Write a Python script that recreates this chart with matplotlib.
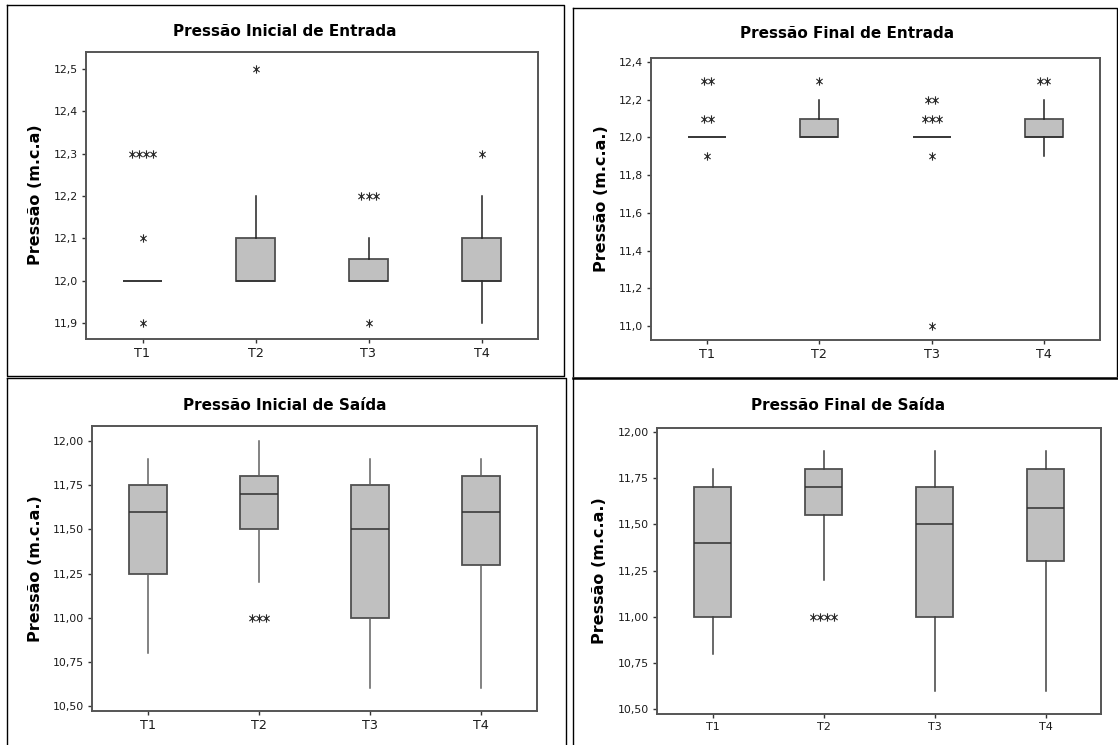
import numpy as np
import matplotlib
matplotlib.use("Agg")
import matplotlib.pyplot as plt
from matplotlib.lines import Line2D
from matplotlib.path import Path

# ---------------- data ----------------
categories = ["T1", "T2", "T3", "T4"]

# Panel 1: Pressão Inicial de Entrada
p1_title = "Pressão Inicial de Entrada"
p1_ylabel = "Pressão (m.c.a)"
p1_q1 = [12.0, 12.0, 12.0, 12.0]
p1_med = [12.0, 12.0, 12.0, 12.0]
p1_q3 = [12.0, 12.1, 12.05, 12.1]
p1_whislo = [12.0, 12.0, 12.0, 11.9]
p1_whishi = [12.0, 12.2, 12.1, 12.2]
p1_outliers = [[(11.9, 1), (12.1, 1), (12.3, 4)], [(12.5, 1)], [(11.9, 1), (12.2, 3)], [(12.3, 1)]]
p1_yticks = [11.9, 12.0, 12.1, 12.2, 12.3, 12.4, 12.5]

# Panel 2: Pressão Final de Entrada
p2_title = "Pressão Final de Entrada"
p2_ylabel = "Pressão (m.c.a.)"
p2_q1 = [12.0, 12.0, 12.0, 12.0]
p2_med = [12.0, 12.0, 12.0, 12.0]
p2_q3 = [12.0, 12.1, 12.0, 12.1]
p2_whislo = [12.0, 12.0, 12.0, 11.9]
p2_whishi = [12.0, 12.2, 12.0, 12.2]
p2_outliers = [[(11.9, 1), (12.1, 2), (12.3, 2)], [(12.3, 1)], [(11.0, 1), (11.9, 1), (12.1, 3), (12.2, 2)], [(12.3, 2)]]
p2_yticks = [11.0, 11.2, 11.4, 11.6, 11.8, 12.0, 12.2, 12.4]

# Panel 3: Pressão Inicial de Saída
p3_title = "Pressão Inicial de Saída"
p3_ylabel = "Pressão (m.c.a.)"
p3_q1 = [11.25, 11.5, 11.0, 11.3]
p3_med = [11.6, 11.7, 11.5, 11.6]
p3_q3 = [11.75, 11.8, 11.75, 11.8]
p3_whislo = [10.8, 11.2, 10.6, 10.6]
p3_whishi = [11.9, 12.0, 11.9, 11.9]
p3_outliers = [[], [(11.0, 3)], [], []]
p3_yticks = [10.5, 10.75, 11.0, 11.25, 11.5, 11.75, 12.0]

# Panel 4: Pressão Final de Saída
p4_title = "Pressão Final de Saída"
p4_ylabel = "Pressão (m.c.a.)"
p4_q1 = [11.0, 11.55, 11.0, 11.3]
p4_med = [11.4, 11.7, 11.5, 11.59]
p4_q3 = [11.7, 11.8, 11.7, 11.8]
p4_whislo = [10.8, 11.2, 10.6, 10.6]
p4_whishi = [11.8, 11.9, 11.9, 11.9]
p4_outliers = [[], [(11.0, 4)], [], []]
p4_yticks = [10.5, 10.75, 11.0, 11.25, 11.5, 11.75, 12.0]

# ---------------- layout ----------------
W, H = 1118, 745
fig = plt.figure(figsize=(W / 100, H / 100), dpi=100)
fig.patch.set_facecolor("white")
plt.rcParams["font.family"] = ["DejaVu Sans"]


def fbox(x0, y0, x1, y1):
    return [x0 / W, 1 - y1 / H, (x1 - x0) / W, (y1 - y0) / H]


def fline(xs, ys, lw=1.0):
    fig.add_artist(Line2D([x / W for x in xs], [1 - y / H for y in ys],
                          color="black", lw=lw, transform=fig.transFigure))


# panel borders
fline([7, 564, 564, 7, 7], [5, 5, 376, 376, 5])
fline([573, 1117, 1117], [8, 8, 376])
fline([573, 573], [8, 376])
fline([7, 566, 566], [378, 378, 745])
fline([7, 7], [378, 745])
fline([573, 1118], [378, 378], lw=1.8)
fline([573, 573], [378, 745])

panels = [
    dict(title=p1_title, ylabel=p1_ylabel, q1=p1_q1, med=p1_med, q3=p1_q3, lo=p1_whislo, hi=p1_whishi,
         out=p1_outliers, yticks=p1_yticks, fmt="%.1f", box=(86, 52, 538, 339), ylim=(11.862, 12.540),
         ptitle=(285, 32), plabel=(36, 195), xfs=9.2, wcol="#222222"),
    dict(title=p2_title, ylabel=p2_ylabel, q1=p2_q1, med=p2_med, q3=p2_q3, lo=p2_whislo, hi=p2_whishi,
         out=p2_outliers, yticks=p2_yticks, fmt="%.1f", box=(651, 58, 1100, 340), ylim=(10.926, 12.421),
         ptitle=(847, 34), plabel=(601, 199), xfs=9.2, wcol="#222222"),
    dict(title=p3_title, ylabel=p3_ylabel, q1=p3_q1, med=p3_med, q3=p3_q3, lo=p3_whislo, hi=p3_whishi,
         out=p3_outliers, yticks=p3_yticks, fmt="%.2f", box=(92, 426, 537, 711), ylim=(10.472, 12.085),
         ptitle=(285, 406), plabel=(36, 569), xfs=9.2, wcol="#606060"),
    dict(title=p4_title, ylabel=p4_ylabel, q1=p4_q1, med=p4_med, q3=p4_q3, lo=p4_whislo, hi=p4_whishi,
         out=p4_outliers, yticks=p4_yticks, fmt="%.2f", box=(657, 428, 1101, 714), ylim=(10.473, 12.022),
         ptitle=(848, 405), plabel=(599, 571), xfs=8.0, wcol="#404040"),
]

# Minitab-style asterisk: vertical bar plus an X
asterisk = Path([(0, -1), (0, 1), (-0.75, -0.6), (0.75, 0.6), (-0.75, 0.6), (0.75, -0.6)],
                [Path.MOVETO, Path.LINETO, Path.MOVETO, Path.LINETO, Path.MOVETO, Path.LINETO])

for p in panels:
    ax = fig.add_axes(fbox(*p["box"]))
    stats = []
    for i, c in enumerate(categories):
        stats.append(dict(label=c, q1=p["q1"][i], med=p["med"][i], q3=p["q3"][i],
                          whislo=p["lo"][i], whishi=p["hi"][i], fliers=[]))
    ax.bxp(stats, positions=range(1, len(categories) + 1), widths=0.34, patch_artist=True,
           showcaps=False, showfliers=False,
           boxprops=dict(facecolor="#C0C0C0", edgecolor="#505050", linewidth=1.3),
           medianprops=dict(color="#303030", linewidth=1.1),
           whiskerprops=dict(color=p["wcol"], linewidth=1.1))
    for i, outs in enumerate(p["out"]):
        for v, n in outs:
            xs = (i + 1) + (np.arange(n) - (n - 1) / 2) * 0.062
            ax.plot(xs, [v] * n, linestyle="none", marker=asterisk, markersize=6,
                    markeredgewidth=0.8, color="#2a2a2a")
    ax.set_xlim(0.5, 4.5)
    ax.set_ylim(*p["ylim"])
    ax.set_yticks(p["yticks"])
    ax.set_yticklabels([(p["fmt"] % t).replace(".", ",") for t in p["yticks"]], fontsize=7.8, color="#1a1a1a")
    ax.set_xticks(range(1, len(categories) + 1))
    ax.set_xticklabels(categories, fontsize=p["xfs"], color="#1a1a1a")
    ax.tick_params(axis="both", direction="out", length=3, width=1.0, color="#333333", pad=3)
    for s in ax.spines.values():
        s.set_color("#555555")
        s.set_linewidth(1.4)
    fig.text(p["ptitle"][0] / W, 1 - p["ptitle"][1] / H, p["title"], ha="center", va="center",
             fontsize=11, fontweight="bold", color="black")
    fig.text(p["plabel"][0] / W, 1 - p["plabel"][1] / H, p["ylabel"], ha="center", va="center",
             rotation=90, fontsize=11.5, fontweight="bold", color="black")

fig.savefig("out.png", dpi=100, facecolor="white")
